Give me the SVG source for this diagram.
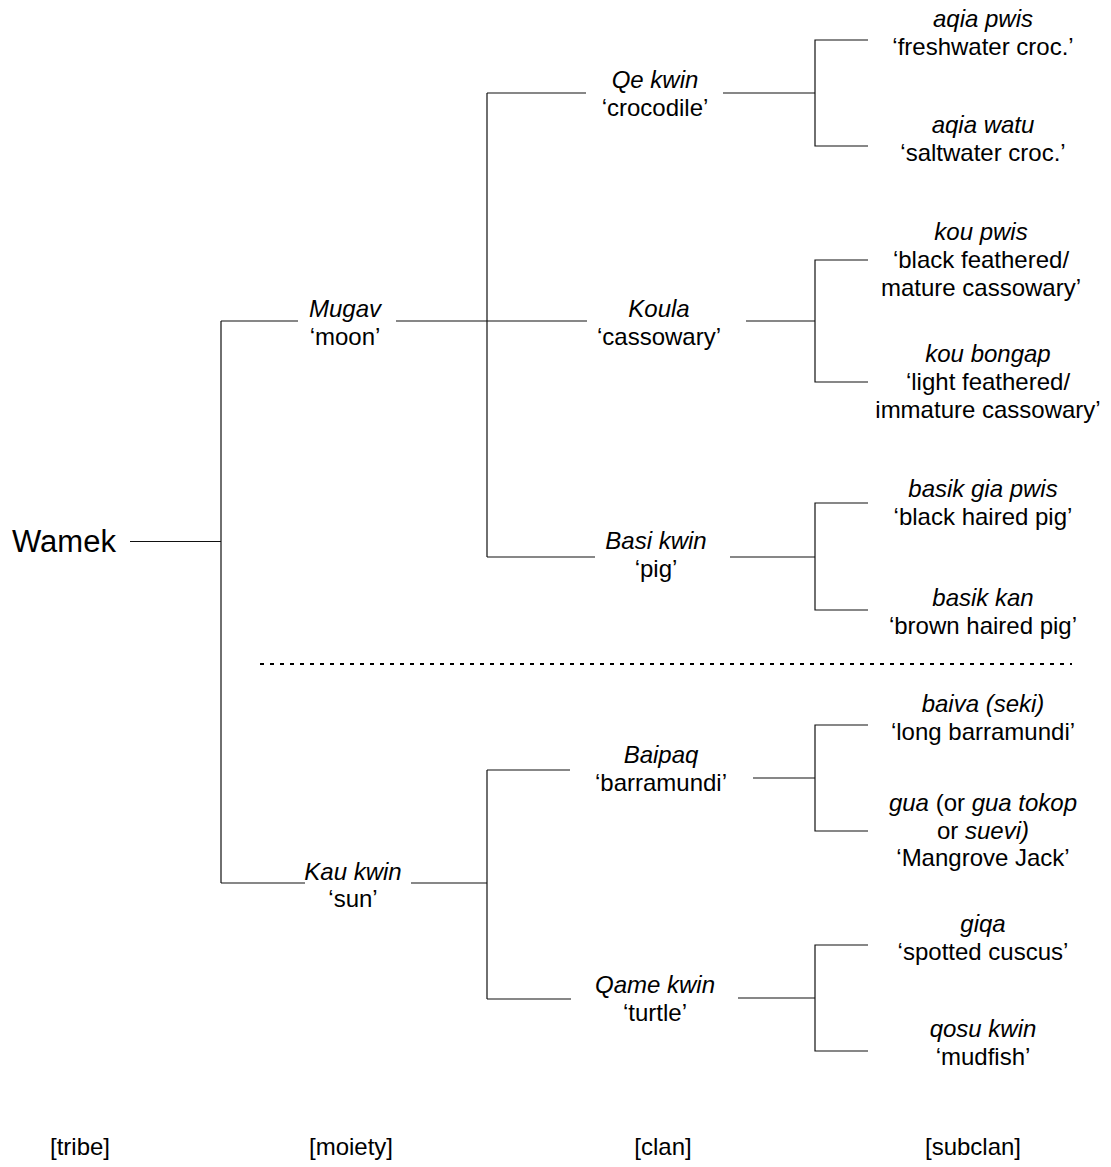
<svg xmlns="http://www.w3.org/2000/svg" width="1111" height="1167" viewBox="0 0 1111 1167">
<style>
text{font-family:"Liberation Sans",Arial,Helvetica,sans-serif;font-size:24px;fill:#000;text-anchor:middle}
.i{font-style:italic}
.big{font-size:31px;text-anchor:start}
.ln{fill:none;stroke:#111;stroke-width:1.2}
.dash{fill:none;stroke:#000;stroke-width:2;stroke-dasharray:4 6}
</style>
<rect width="1111" height="1167" fill="#fff"/>
<g id="connectors">
<path class="ln" d="M130 541.5H221M221 321V883M221 321H298M396 321H487M221 883H305M411 883H487"/>
<path class="ln" d="M487 93V557M487 93H586M723 93H815M487 321H587M746 321H815M487 557H595M730 557H815"/>
<path class="ln" d="M487 770V999M487 770H570M753 778H815M487 999H571M738 998H815"/>
<path class="ln" d="M868 40H815V146H868M868 260H815V382H868M868 503H815V610H868M868 725H815V831H868M868 945H815V1051H868"/>
<path class="dash" d="M260 664H1072"/>
</g>
<g id="tribe-wamek"><text class="big" x="12" y="552">Wamek</text></g>
<g id="moiety-mugav"><text class="i" x="345" y="317">Mugav</text><text x="345" y="345">‘moon’</text></g>
<g id="moiety-kau"><text class="i" x="353" y="880">Kau kwin</text><text x="353" y="907">‘sun’</text></g>
<g id="clan-qe"><text class="i" x="655" y="88">Qe kwin</text><text x="655" y="116">‘crocodile’</text></g>
<g id="clan-koula"><text class="i" x="659" y="317">Koula</text><text x="659" y="345">‘cassowary’</text></g>
<g id="clan-basi"><text class="i" x="656" y="549">Basi kwin</text><text x="656" y="577">‘pig’</text></g>
<g id="clan-baipaq"><text class="i" x="661" y="763">Baipaq</text><text x="661" y="791">‘barramundi’</text></g>
<g id="clan-qame"><text class="i" x="655" y="993">Qame kwin</text><text x="655" y="1021">‘turtle’</text></g>
<g id="sub-aqia-pwis"><text class="i" x="983" y="27">aqia pwis</text><text x="983" y="55">‘freshwater croc.’</text></g>
<g id="sub-aqia-watu"><text class="i" x="983" y="133">aqia watu</text><text x="983" y="161">‘saltwater croc.’</text></g>
<g id="sub-kou-pwis"><text class="i" x="981" y="240">kou pwis</text><text x="981" y="268">‘black feathered/</text><text x="981" y="296">mature cassowary’</text></g>
<g id="sub-kou-bongap"><text class="i" x="988" y="362">kou bongap</text><text x="988" y="390">‘light feathered/</text><text x="988" y="418">immature cassowary’</text></g>
<g id="sub-basik-gia-pwis"><text class="i" x="983" y="497">basik gia pwis</text><text x="983" y="525">‘black haired pig’</text></g>
<g id="sub-basik-kan"><text class="i" x="983" y="606">basik kan</text><text x="983" y="634">‘brown haired pig’</text></g>
<g id="sub-baiva"><text class="i" x="983" y="712">baiva (seki)</text><text x="983" y="740">‘long barramundi’</text></g>
<g id="sub-gua"><text x="983" y="811"><tspan class="i">gua</tspan> (or <tspan class="i">gua tokop</tspan></text><text x="983" y="839">or <tspan class="i">suevi)</tspan></text><text x="983" y="866">‘Mangrove Jack’</text></g>
<g id="sub-giqa"><text class="i" x="983" y="932">giqa</text><text x="983" y="960">‘spotted cuscus’</text></g>
<g id="sub-qosu"><text class="i" x="983" y="1037">qosu kwin</text><text x="983" y="1065">‘mudfish’</text></g>
<g id="levels"><text x="80" y="1155">[tribe]</text><text x="351" y="1155">[moiety]</text><text x="663" y="1155">[clan]</text><text x="973" y="1155">[subclan]</text></g>
</svg>
